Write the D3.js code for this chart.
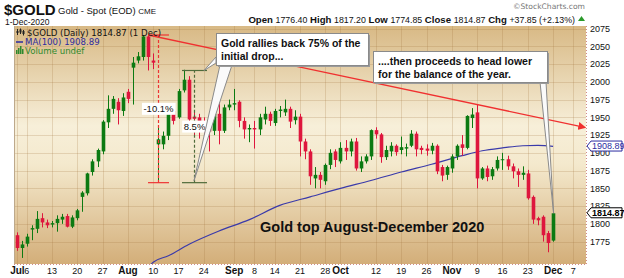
<!DOCTYPE html>
<html>
<head>
<meta charset="utf-8">
<script src="https://cdn.jsdelivr.net/npm/d3@7"></script>
<style>
  body { margin: 0; background: #fff; }
  svg { display: block; }
</style>
</head>
<body>
<div id="chart"></div>
<script>
// Trading days shown on the chart (2020), by month
const tradingDays = [
    ["07", [1, 2, 6, 7, 8, 9, 10, 13, 14, 15, 16, 17, 20, 21, 22, 23, 24, 27, 28, 29, 30, 31]],
    ["08", [3, 4, 5, 6, 7, 10, 11, 12, 13, 14, 17, 18, 19, 20, 21, 24, 25, 26, 27, 28, 31]],
    ["09", [1, 2, 3, 4, 8, 9, 10, 11, 14, 15, 16, 17, 18, 21, 22, 23, 24, 25, 28, 29, 30]],
    ["10", [1, 2, 5, 6, 7, 8, 9, 12, 13, 14, 15, 16, 19, 20, 21, 22, 23, 26, 27, 28, 29, 30]],
    ["11", [2, 3, 4, 5, 6, 9, 10, 11, 12, 13, 16, 17, 18, 19, 20, 23, 24, 25, 27, 30]],
    ["12", [1]]
];
// empty slots to the right of the last bar
const futureDays = ["12-02", "12-03", "12-04", "12-07", "12-08", "12-09"];

// OHLC, one value per trading day
const opens = [1784, 1766, 1772, 1792, 1793, 1808, 1802, 1799, 1801, 1806, 1811, 1796, 1808, 1838, 1843, 1873, 1888, 1902, 1943, 1962, 1972, 1959,
    1986, 2020, 2030, 2035, 2064, 2030, 1912, 1912, 1924, 1959, 1950, 1988, 2003, 1951, 1950, 1940, 1937, 1931, 1955, 1931, 1964,
    1968, 1972, 1945, 1933, 1935, 1933, 1947, 1955, 1942, 1959, 1957, 1962, 1946, 1951, 1916, 1902, 1864, 1869, 1860, 1883, 1902,
    1888, 1907, 1902, 1916, 1878, 1888, 1895, 1932, 1926, 1894, 1902, 1910, 1904, 1906, 1910, 1927, 1907, 1906, 1903, 1910, 1880, 1869,
    1878, 1895, 1912, 1907, 1949, 1957, 1864, 1878, 1867, 1878, 1890, 1891, 1881, 1874, 1869, 1871, 1838, 1808, 1810, 1787,
    1776.40];
const highs = [1788, 1776, 1786, 1798, 1818, 1815, 1806, 1804, 1812, 1814, 1814, 1812, 1821, 1846, 1872, 1891, 1906, 1946, 1981, 1980, 1977, 1984,
    1990, 2035, 2042, 2066, 2066, 2040, 1935, 1930, 1960, 1962, 1990, 2017, 2008, 1960, 1955, 1950, 1942, 1960, 1972, 1968, 1975,
    1990, 1974, 1950, 1940, 1945, 1955, 1965, 1958, 1962, 1966, 1975, 1965, 1960, 1955, 1920, 1905, 1880, 1873, 1885, 1905, 1905,
    1915, 1918, 1920, 1921, 1895, 1898, 1933, 1936, 1928, 1910, 1915, 1912, 1923, 1913, 1932, 1930, 1910, 1912, 1914, 1912, 1883, 1882,
    1898, 1912, 1925, 1953, 1963, 1968, 1880, 1882, 1880, 1895, 1900, 1896, 1885, 1878, 1881, 1876, 1840, 1810, 1812, 1790,
    1817.20];
const lows = [1762, 1752, 1768, 1777, 1787, 1795, 1794, 1795, 1789, 1800, 1795, 1794, 1805, 1817, 1840, 1868, 1880, 1898, 1935, 1955, 1940, 1952,
    1970, 1968, 2026, 2030, 2016, 2018, 1860, 1905, 1918, 1940, 1948, 1985, 1940, 1925, 1920, 1925, 1902, 1925, 1912, 1928, 1960,
    1960, 1936, 1920, 1915, 1906, 1925, 1940, 1938, 1938, 1950, 1952, 1935, 1940, 1895, 1891, 1855, 1850, 1850, 1855, 1877, 1880,
    1885, 1890, 1895, 1875, 1873, 1885, 1890, 1920, 1886, 1890, 1895, 1896, 1898, 1895, 1908, 1895, 1898, 1896, 1898, 1870, 1860, 1862,
    1872, 1890, 1896, 1905, 1935, 1850, 1862, 1860, 1862, 1875, 1876, 1876, 1864, 1852, 1862, 1834, 1800, 1798, 1775, 1760,
    1774.85];
const closes = [1766, 1771, 1782, 1794, 1807, 1802, 1798, 1801, 1807, 1810, 1796, 1809, 1819, 1844, 1871, 1888, 1904, 1944, 1962, 1976, 1960, 1978,
    1976, 2027, 2036, 2064, 2035, 2027, 1919, 1924, 1955, 1945, 1987, 2003, 1947, 1948, 1942, 1934, 1930, 1955, 1931, 1964, 1968,
    1970, 1945, 1933, 1935, 1933, 1950, 1955, 1945, 1959, 1961, 1962, 1944, 1951, 1916, 1902, 1867, 1869, 1862, 1883, 1900, 1890,
    1907, 1902, 1916, 1878, 1888, 1895, 1932, 1926, 1894, 1904, 1910, 1901, 1908, 1908, 1927, 1905, 1904, 1903, 1910, 1874, 1868, 1880,
    1895, 1910, 1907, 1952, 1954, 1864, 1878, 1866, 1877, 1890, 1891, 1881, 1874, 1869, 1872, 1836, 1806, 1805, 1784, 1773,
    1814.87];

// MA(100) at a few dates
const maDates = ["08-07", "08-10", "08-13", "08-19", "08-27", "09-04", "09-15", "09-23", "10-01", "10-09", "10-19", "10-27", "11-04", "11-10", "11-16", "11-20", "11-25", "12-01"];
const maValues = [1738, 1746, 1755, 1771, 1790, 1806, 1826, 1838, 1850, 1861, 1873, 1884, 1896, 1903, 1907, 1910, 1910.5, 1909];

// axis ticks
const yTicks = [1775, 1800, 1825, 1850, 1875, 1900, 1925, 1950, 1975, 2000, 2025, 2050, 2075];
const xTickDates = ["07-01", "07-06", "07-13", "07-20", "07-27", "08-03", "08-10", "08-17", "08-24", "09-01", "09-08", "09-14", "09-21", "09-28",
    "10-01", "10-12", "10-19", "10-26", "11-02", "11-09", "11-16", "11-23", "12-01", "12-07"];
const xTickLabels = ["Jul", "6", "13", "20", "27", "Aug", "10", "17", "24", "Sep", "8", "14", "21", "28",
    "Oct", "12", "19", "26", "Nov", "9", "16", "23", "Dec", "7"];
const monthLabels = ["Jul", "Aug", "Sep", "Oct", "Nov", "Dec"];

// drawn annotations (price levels)
const trendAnchors = [["08-07", 2066], ["11-09", 1968]];
const dropMeasure = { date: "08-11", from: 2066, to: 1858, label: "-10.1%" };
const rallyMeasure = { date: "08-20", from: 1858, to: 2016, label: "8.5%" };
const lastClose = 1814.87, lastMA = 1908.89;

const width = 624, height = 278;
const plot = { x0: 14, x1: 586, y0: 26, y1: 264 };

const dates = tradingDays.flatMap(([m, ds]) => ds.map(d => `${m}-${String(d).padStart(2, "0")}`));
const bars = dates.map((d, i) => ({ date: d, o: opens[i], h: highs[i], l: lows[i], c: closes[i] }));

const svg = d3.select("#chart")
    .append("svg")
    .attr("width", width)
    .attr("height", height)
    .style("font-family", "'Liberation Sans', Arial, sans-serif");

const x = d3.scaleBand().domain(dates.concat(futureDays)).range([plot.x0, plot.x1]);
const cx = d => x(d) + x.bandwidth() / 2;
const y = d3.scaleLinear().domain([1775, 2075]).range([241.6, 28.6]);

const defs = svg.append("defs");
const bg = defs.append("linearGradient").attr("id", "bg").attr("x1", 0).attr("y1", 0).attr("x2", 0).attr("y2", 1);
[[0, "#d8b985"], [0.42, "#f7efd9"], [0.58, "#f4e9cd"], [1, "#d3ae79"]]
    .forEach(([o, c]) => bg.append("stop").attr("offset", o).attr("stop-color", c));
defs.append("clipPath").attr("id", "clip").append("rect")
    .attr("x", plot.x0).attr("y", plot.y0).attr("width", plot.x1 - plot.x0).attr("height", plot.y1 - plot.y0);
defs.append("marker").attr("id", "arrow").attr("viewBox", "0 0 10 10")
    .attr("refX", 2).attr("refY", 5).attr("markerWidth", 8).attr("markerHeight", 8)
    .attr("markerUnits", "userSpaceOnUse").attr("orient", "auto")
    .append("path").attr("d", "M0,0L10,5L0,10z").attr("fill", "#f03030");

// plot background
svg.append("rect")
    .attr("x", plot.x0).attr("y", plot.y0)
    .attr("width", plot.x1 - plot.x0).attr("height", plot.y1 - plot.y0)
    .attr("fill", "url(#bg)");

// grid
const grid = svg.append("g").attr("stroke", "rgba(160,115,60,0.22)").attr("stroke-width", 1);
grid.selectAll("line.h").data(yTicks).join("line")
    .attr("x1", plot.x0).attr("x2", plot.x1)
    .attr("y1", d => Math.round(y(d)) + 0.5).attr("y2", d => Math.round(y(d)) + 0.5);
grid.selectAll("line.v").data(xTickDates).join("line")
    .attr("y1", plot.y0).attr("y2", plot.y1)
    .attr("x1", d => Math.round(cx(d)) + 0.5).attr("x2", d => Math.round(cx(d)) + 0.5);

// plot frame
svg.append("line").attr("x1", plot.x0 + 0.5).attr("x2", plot.x0 + 0.5).attr("y1", plot.y0).attr("y2", plot.y1)
    .attr("stroke", "#bda98c");
svg.append("line").attr("x1", plot.x1 + 0.5).attr("x2", plot.x1 + 0.5).attr("y1", plot.y0).attr("y2", plot.y1)
    .attr("stroke", "#d08a8a").attr("stroke-dasharray", "1,2");
svg.append("line").attr("x1", plot.x0).attr("x2", plot.x1).attr("y1", plot.y1 + 0.5).attr("y2", plot.y1 + 0.5)
    .attr("stroke", "#d08a8a").attr("stroke-dasharray", "1,2");

const main = svg.append("g").attr("clip-path", "url(#clip)");

// MA(100)
main.append("path")
    .datum(maDates.map((d, i) => ({ date: d, v: maValues[i] })))
    .attr("fill", "none")
    .attr("stroke", "#3a3aaa")
    .attr("stroke-width", 1.2)
    .attr("d", d3.line().x(d => cx(d.date)).y(d => y(d.v)).curve(d3.curveMonotoneX));

// candles
const up = "#0c7a12", down = "#de163d";
const bw = 3.6;
const candle = main.append("g").selectAll("g").data(bars).join("g")
    .attr("fill", d => d.c >= d.o ? up : down)
    .attr("stroke", d => d.c >= d.o ? up : down);
candle.append("line")
    .attr("x1", d => Math.round(cx(d.date)) + 0.5).attr("x2", d => Math.round(cx(d.date)) + 0.5)
    .attr("y1", d => y(d.h)).attr("y2", d => y(d.l))
    .attr("stroke-width", 1);
candle.append("rect")
    .attr("x", d => Math.round(cx(d.date)) + 0.5 - bw / 2)
    .attr("width", bw)
    .attr("y", d => y(Math.max(d.o, d.c)))
    .attr("height", d => Math.max(1, Math.abs(y(d.o) - y(d.c))))
    .attr("stroke", "none");

// trend line
const [ta, tb] = trendAnchors;
const slope = (tb[1] - ta[1]) / (cx(tb[0]) - cx(ta[0]));
const tEndX = plot.x1 - 6;
svg.append("line")
    .attr("x1", cx(ta[0])).attr("y1", y(ta[1]))
    .attr("x2", tEndX).attr("y2", y(ta[1] + slope * (tEndX - cx(ta[0]))))
    .attr("stroke", "#f03030").attr("stroke-width", 1.3)
    .attr("marker-end", "url(#arrow)");

// measurement tools
function measure(m, color, half) {
    const mx = Math.round(cx(m.date)) + 0.5;
    const g = svg.append("g").attr("stroke", color).attr("stroke-width", 1.2);
    g.append("line").attr("x1", mx).attr("x2", mx).attr("y1", y(m.from)).attr("y2", y(m.to)).attr("stroke-dasharray", "3,2");
    [m.from, m.to].forEach(v => g.append("line")
        .attr("x1", mx - half).attr("x2", mx + half).attr("y1", y(v)).attr("y2", y(v)));
    const my = y((m.from + m.to) / 2);
    const t = svg.append("text").attr("x", mx).attr("y", my + 3.5)
        .attr("text-anchor", "middle").attr("font-size", 9.5).attr("fill", "#111").text(m.label);
    const bb = t.node().getBBox();
    svg.insert("rect", () => t.node())
        .attr("x", bb.x - 1.5).attr("y", bb.y - 0.5).attr("width", bb.width + 3).attr("height", bb.height + 1)
        .attr("fill", "#fff");
}
measure(dropMeasure, "#ee3333", 10.5);
measure(rallyMeasure, "#4f6b3a", 12.5);

// callouts
function callout(bx, by, bw2, bh, lines, pointers) {
    const g = svg.append("g");
    pointers.forEach(p => g.append("polygon").attr("points", p.map(q => q.join(",")).join(" "))
        .attr("fill", "#fafafa").attr("stroke", "#8a8a8a").attr("stroke-width", 1));
    g.append("rect").attr("x", bx + 2).attr("y", by + 2).attr("width", bw2).attr("height", bh).attr("fill", "#9a9a9a");
    g.append("rect").attr("x", bx + 0.5).attr("y", by + 0.5).attr("width", bw2).attr("height", bh)
        .attr("fill", "#fff").attr("stroke", "#8a8a8a");
    lines.forEach((l, i) => g.append("text").attr("x", bx + 5).attr("y", by + 14 + i * 12.5)
        .attr("font-size", 10.5).attr("font-weight", "bold").attr("fill", "#111").text(l));
}
const rTop = y(rallyMeasure.to), rBot = y(rallyMeasure.from), rx = Math.round(cx(rallyMeasure.date));
callout(216, 33, 152, 32, ["Gold rallies back 75% of the", "initial drop..."], [
    [[216, 57], [216, 63], [rx + 10, rTop]],
    [[220, 65], [232, 65], [rx, rBot - 2]]
]);
const lastX = cx(dates[dates.length - 1]);
callout(373, 51, 174, 31, ["....then proceeds to head lower", "for the balance of the year."], [
    [[540, 82], [546, 82], [lastX + 0.5, y(lastClose)]]
]);

// chart caption
svg.append("text").attr("x", 260).attr("y", 232)
    .attr("font-size", 14.5).attr("font-weight", "bold").attr("fill", "#111")
    .text("Gold top August-December 2020");

// y axis labels
svg.append("g").selectAll("text").data(yTicks).join("text")
    .attr("x", plot.x1 + 4).attr("y", d => y(d) + 3.3)
    .attr("font-size", 9).attr("fill", "#111").text(d => d);

// value tags on the axis
function tag(v, color, bold) {
    const ty = y(v) - 0.5;
    svg.append("polygon")
        .attr("points", [[plot.x1 + 1, ty], [plot.x1 + 5, ty - 5], [622, ty - 5], [622, ty + 5], [plot.x1 + 5, ty + 5]].map(p => p.join(",")).join(" "))
        .attr("fill", "#fff").attr("stroke", color).attr("stroke-width", 1);
    svg.append("text").attr("x", plot.x1 + 6).attr("y", ty + 3.2)
        .attr("font-size", 9).attr("font-weight", bold ? "bold" : "normal").attr("fill", color).text(v.toFixed(2));
}
tag(lastMA, "#2b2ba0", false);
tag(lastClose, "#000", true);

// x axis labels
svg.append("g").selectAll("text").data(xTickDates).join("text")
    .attr("x", (d, i) => i === 0 ? cx(xTickDates[1]) - 2 : cx(d))
    .attr("y", 274)
    .attr("text-anchor", (d, i) => i === 0 ? "end" : "middle")
    .attr("font-size", (d, i) => monthLabels.includes(xTickLabels[i]) ? 10 : 9)
    .attr("font-weight", (d, i) => monthLabels.includes(xTickLabels[i]) ? "bold" : "normal")
    .attr("fill", "#111")
    .text((d, i) => xTickLabels[i]);

// legend inside plot
const lg = svg.append("g").attr("font-family", "'DejaVu Sans', Verdana, sans-serif").attr("font-size", 8.6);
[[17, 29, 35, 31, 33], [20, 28.5, 34, 29.5, 32.5], [23, 30, 35.5, 31, 34]].forEach(([lx, a, b, c, d]) => {
    lg.append("line").attr("x1", lx + 0.5).attr("x2", lx + 0.5).attr("y1", a).attr("y2", b).attr("stroke", "#222");
    lg.append("rect").attr("x", lx - 0.5).attr("y", c).attr("width", 2).attr("height", d - c).attr("fill", "#222");
});
lg.append("text").attr("x", 27).attr("y", 35.5).attr("fill", "#111").text(`$GOLD (Daily) ${lastClose} (1 Dec)`);
lg.append("line").attr("x1", 16).attr("x2", 23).attr("y1", 42).attr("y2", 42).attr("stroke", "#2b2ba0").attr("stroke-width", 1.5);
lg.append("text").attr("x", 25).attr("y", 45).attr("fill", "#2b2ba0").text(`MA(100) ${lastMA}`);
[[16, 4], [18, 6], [20, 8], [22, 5]].forEach(([vx, vh]) =>
    lg.append("rect").attr("x", vx).attr("y", 54 - vh).attr("width", 1.5).attr("height", vh).attr("fill", "#2e8a2e"));
lg.append("text").attr("x", 25).attr("y", 54).attr("fill", "#2e8a2e").text("Volume undef");

// header
svg.append("text").attr("x", 4).attr("y", 15).attr("font-size", 15).attr("font-weight", "bold").attr("fill", "#111").text("$GOLD");
svg.append("text").attr("x", 58).attr("y", 14).attr("font-size", 9.5).attr("fill", "#111")
    .text("Gold - Spot (EOD) ").append("tspan").attr("font-size", 8).text("CME");
svg.append("text").attr("x", 5).attr("y", 24.5).attr("font-size", 8.5).attr("fill", "#111").text("1-Dec-2020");
svg.append("text").attr("x", 585).attr("y", 9).attr("text-anchor", "end")
    .attr("font-family", "'DejaVu Sans', Verdana, sans-serif").attr("font-size", 7.6).attr("fill", "#777")
    .text("\u00a9StockCharts.com");

const quote = [["Open", "1776.40"], ["High", "1817.20"], ["Low", "1774.85"], ["Close", "1814.87"], ["Chg", "+37.85 (+2.13%)"]];
const qt = svg.append("text").attr("x", 575).attr("y", 23).attr("text-anchor", "end").attr("fill", "#111");
quote.forEach(([k, v], i) => {
    qt.append("tspan").attr("font-size", 9.6).attr("font-weight", "bold").text((i ? " " : "") + k + " ");
    qt.append("tspan").attr("font-size", 8.8).text(v);
});
svg.append("path").attr("d", "M578,21L581.5,16L585,21z").attr("fill", "#2a9a2a");
</script>
</body>
</html>
